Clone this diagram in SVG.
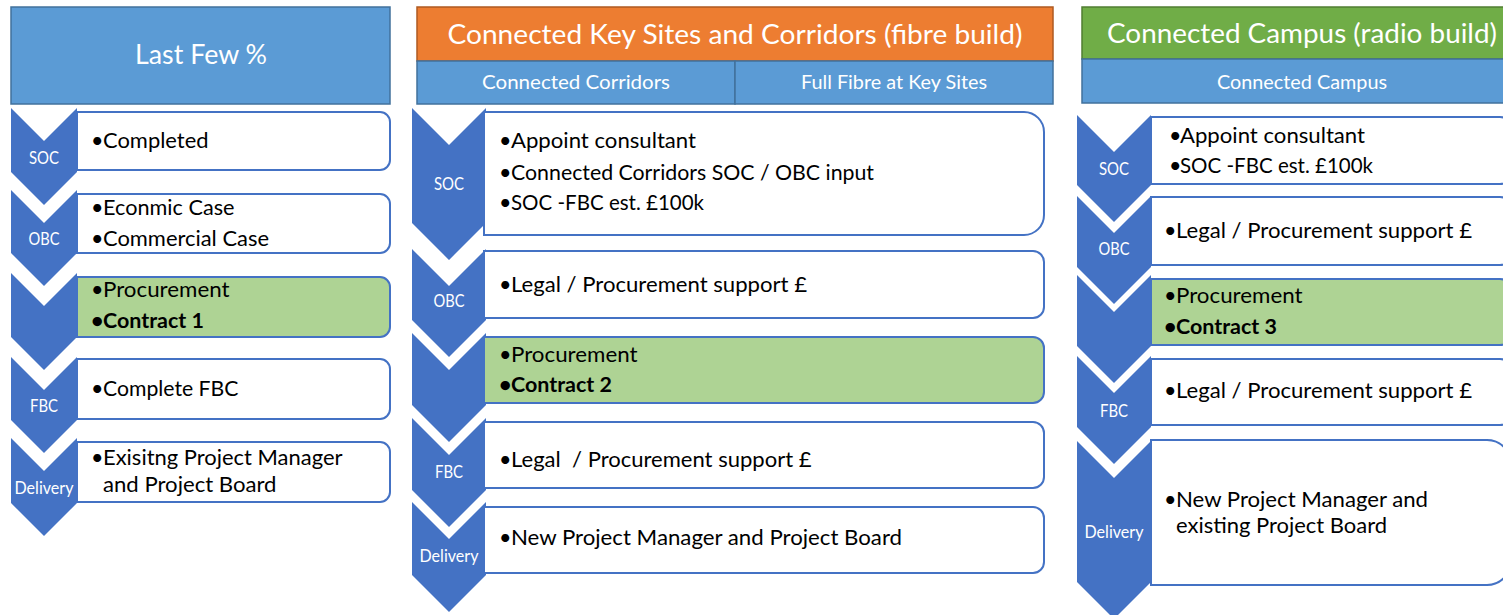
<svg xmlns="http://www.w3.org/2000/svg" width="1503" height="615" viewBox="0 0 1503 615">
  <style>
    .hdr-blue { fill: #5B9BD5; stroke: #41719C; stroke-width: 1.5; }
    .hdr-orange { fill: #ED7D31; stroke: #AE5A21; stroke-width: 1.5; }
    .hdr-green { fill: #70AD47; stroke: #507E32; stroke-width: 1.5; }
    .chev { fill: #4472C4; }
    .box { fill: #FFFFFF; stroke: #4472C4; stroke-width: 2; }
    .box-hl { fill: #AED394; stroke: #4472C4; stroke-width: 2; }
    .title { font-family: Lato, "Open Sans", sans-serif; font-size: 26px; fill: #FFFFFF; text-anchor: middle; }
    .sub { font-family: Lato, "Open Sans", sans-serif; font-size: 19.5px; fill: #FFFFFF; text-anchor: middle; }
    .stage { font-family: Lato, "Open Sans", sans-serif; font-size: 16.5px; fill: #FFFFFF; text-anchor: middle; }
    .body { font-family: Lato, "Open Sans", sans-serif; font-size: 21.5px; fill: #000000; }
    .bold { font-weight: bold; }
  </style>

  <!-- Column 1: Last Few % -->
  <g id="last-few">
    <rect class="hdr-blue" x="11" y="7" width="379" height="97"/>
    <text class="title" x="201" y="64" textLength="132" lengthAdjust="spacingAndGlyphs">Last Few %</text>
  </g>

  <g id="lf-soc">
    <path class="chev" d="M11,108 L44,141 L77,108 L77,172 L44,205 L11,172 Z"/>
    <text class="stage" x="44" y="164" textLength="30" lengthAdjust="spacingAndGlyphs">SOC</text>
    <path class="box" d="M77,112 H380 A10,10 0 0 1 390,122 V160 A10,10 0 0 1 380,170 H77 Z"/>
    <text class="body" x="91" y="148">•</text>
    <text class="body" x="103" y="148" textLength="105.5" lengthAdjust="spacingAndGlyphs">Completed</text>
  </g>

  <g id="lf-obc">
    <path class="chev" d="M11,190 L44,223 L77,190 L77,253 L44,286 L11,253 Z"/>
    <text class="stage" x="44" y="245" textLength="31" lengthAdjust="spacingAndGlyphs">OBC</text>
    <path class="box" d="M77,194 H380 A10,10 0 0 1 390,204 V243 A10,10 0 0 1 380,253 H77 Z"/>
    <text class="body" x="91" y="215">•</text>
    <text class="body" x="103" y="215" textLength="131.5" lengthAdjust="spacingAndGlyphs">Econmic Case</text>
    <text class="body" x="91" y="246">•</text>
    <text class="body" x="103" y="246" textLength="166" lengthAdjust="spacingAndGlyphs">Commercial Case</text>
  </g>

  <g id="lf-proc">
    <path class="chev" d="M11,273 L44,306 L77,273 L77,337 L44,370 L11,337 Z"/>
    <path class="box-hl" d="M77,277 H380 A10,10 0 0 1 390,287 V327 A10,10 0 0 1 380,337 H77 Z"/>
    <text class="body" x="91" y="297">•</text>
    <text class="body" x="103" y="297" textLength="126.5" lengthAdjust="spacingAndGlyphs">Procurement</text>
    <text class="body bold" x="91" y="328">•</text>
    <text class="body bold" x="103" y="328" textLength="101" lengthAdjust="spacingAndGlyphs">Contract 1</text>
  </g>

  <g id="lf-fbc">
    <path class="chev" d="M11,357 L44,390 L77,357 L77,420 L44,453 L11,420 Z"/>
    <text class="stage" x="44" y="412" textLength="28" lengthAdjust="spacingAndGlyphs">FBC</text>
    <path class="box" d="M77,359 H380 A10,10 0 0 1 390,369 V409 A10,10 0 0 1 380,419 H77 Z"/>
    <text class="body" x="91" y="396">•</text>
    <text class="body" x="103" y="396" textLength="135.5" lengthAdjust="spacingAndGlyphs">Complete FBC</text>
  </g>

  <g id="lf-delivery">
    <path class="chev" d="M11,438 L44,471 L77,438 L77,503 L44,536 L11,503 Z"/>
    <text class="stage" x="44" y="494" textLength="59" lengthAdjust="spacingAndGlyphs">Delivery</text>
    <path class="box" d="M77,442 H380 A10,10 0 0 1 390,452 V492 A10,10 0 0 1 380,502 H77 Z"/>
    <text class="body" x="91" y="465">•</text>
    <text class="body" x="103" y="465" textLength="239.5" lengthAdjust="spacingAndGlyphs">Exisitng Project Manager</text>
    <text class="body" x="103" y="492" textLength="173.5" lengthAdjust="spacingAndGlyphs">and Project Board</text>
  </g>

  <!-- Column 2: Connected Key Sites and Corridors -->
  <g id="key-sites">
    <rect class="hdr-orange" x="417" y="7" width="636" height="54"/>
    <text class="title" x="735" y="44" textLength="575" lengthAdjust="spacingAndGlyphs">Connected Key Sites and Corridors (fibre build)</text>
  </g>
  <g id="corridors">
    <rect class="hdr-blue" x="417" y="61" width="318" height="43"/>
    <text class="sub" x="576" y="89" textLength="188" lengthAdjust="spacingAndGlyphs">Connected Corridors</text>
  </g>
  <g id="full-fibre">
    <rect class="hdr-blue" x="735" y="61" width="318" height="43"/>
    <text class="sub" x="894" y="89" textLength="186" lengthAdjust="spacingAndGlyphs">Full Fibre at Key Sites</text>
  </g>

  <g id="ks-soc">
    <path class="chev" d="M412,108 L449,145 L486,108 L486,223 L449,260 L412,223 Z"/>
    <text class="stage" x="449" y="190" textLength="30" lengthAdjust="spacingAndGlyphs">SOC</text>
    <path class="box" d="M484,112 H1024 A20,20 0 0 1 1044,132 V215 A20,20 0 0 1 1024,235 H484 Z"/>
    <text class="body" x="499" y="148">•</text>
    <text class="body" x="511" y="148" textLength="185" lengthAdjust="spacingAndGlyphs">Appoint consultant</text>
    <text class="body" x="499" y="180">•</text>
    <text class="body" x="511" y="180" textLength="363" lengthAdjust="spacingAndGlyphs">Connected Corridors SOC / OBC input</text>
    <text class="body" x="499" y="210">•</text>
    <text class="body" x="511" y="210" textLength="193" lengthAdjust="spacingAndGlyphs">SOC -FBC est. £100k</text>
  </g>

  <g id="ks-obc">
    <path class="chev" d="M412,249 L449,286 L486,249 L486,320 L449,357 L412,320 Z"/>
    <text class="stage" x="449" y="307" textLength="31" lengthAdjust="spacingAndGlyphs">OBC</text>
    <path class="box" d="M484,251 H1033 A11,11 0 0 1 1044,262 V307 A11,11 0 0 1 1033,318 H484 Z"/>
    <text class="body" x="499" y="292">•</text>
    <text class="body" x="511" y="292" textLength="296" lengthAdjust="spacingAndGlyphs">Legal / Procurement support £</text>
  </g>

  <g id="ks-proc">
    <path class="chev" d="M412,333 L449,370 L486,333 L486,405 L449,442 L412,405 Z"/>
    <path class="box-hl" d="M484,337 H1033 A11,11 0 0 1 1044,348 V392 A11,11 0 0 1 1033,403 H484 Z"/>
    <text class="body" x="499" y="362">•</text>
    <text class="body" x="511" y="362" textLength="126.5" lengthAdjust="spacingAndGlyphs">Procurement</text>
    <text class="body bold" x="499" y="392">•</text>
    <text class="body bold" x="511" y="392" textLength="101" lengthAdjust="spacingAndGlyphs">Contract 2</text>
  </g>

  <g id="ks-fbc">
    <path class="chev" d="M412,418 L449,455 L486,418 L486,490 L449,527 L412,490 Z"/>
    <text class="stage" x="449" y="478" textLength="28" lengthAdjust="spacingAndGlyphs">FBC</text>
    <path class="box" d="M484,422 H1033 A11,11 0 0 1 1044,433 V477 A11,11 0 0 1 1033,488 H484 Z"/>
    <text class="body" x="499" y="467">•</text>
    <text class="body" x="511" y="467" textLength="300.5" lengthAdjust="spacingAndGlyphs" xml:space="preserve">Legal  / Procurement support £</text>
  </g>

  <g id="ks-delivery">
    <path class="chev" d="M412,502 L449,539 L486,502 L486,575 L449,612 L412,575 Z"/>
    <text class="stage" x="449" y="562" textLength="59" lengthAdjust="spacingAndGlyphs">Delivery</text>
    <path class="box" d="M484,507 H1033 A11,11 0 0 1 1044,518 V562 A11,11 0 0 1 1033,573 H484 Z"/>
    <text class="body" x="499" y="545">•</text>
    <text class="body" x="511" y="545" textLength="391" lengthAdjust="spacingAndGlyphs">New Project Manager and Project Board</text>
  </g>

  <!-- Column 3: Connected Campus -->
  <g id="campus-radio">
    <rect class="hdr-green" x="1082" y="7" width="440" height="52"/>
    <text class="title" x="1302" y="43" textLength="390" lengthAdjust="spacingAndGlyphs">Connected Campus (radio build)</text>
  </g>
  <g id="campus">
    <rect class="hdr-blue" x="1082" y="59" width="440" height="44"/>
    <text class="sub" x="1302" y="89" textLength="170" lengthAdjust="spacingAndGlyphs">Connected Campus</text>
  </g>

  <g id="cc-soc">
    <path class="chev" d="M1077,115 L1114,152 L1151,115 L1151,185 L1114,222 L1077,185 Z"/>
    <text class="stage" x="1114" y="175" textLength="30" lengthAdjust="spacingAndGlyphs">SOC</text>
    <path class="box" d="M1151,117 H1500 A11,11 0 0 1 1511,128 V173 A11,11 0 0 1 1500,184 H1151 Z"/>
    <text class="body" x="1169" y="143">•</text>
    <text class="body" x="1180" y="143" textLength="185" lengthAdjust="spacingAndGlyphs">Appoint consultant</text>
    <text class="body" x="1169" y="173">•</text>
    <text class="body" x="1180" y="173" textLength="193" lengthAdjust="spacingAndGlyphs">SOC -FBC est. £100k</text>
  </g>

  <g id="cc-obc">
    <path class="chev" d="M1077,196 L1114,233 L1151,196 L1151,267 L1114,304 L1077,267 Z"/>
    <text class="stage" x="1114" y="255" textLength="31" lengthAdjust="spacingAndGlyphs">OBC</text>
    <path class="box" d="M1151,197 H1500 A11,11 0 0 1 1511,208 V254 A11,11 0 0 1 1500,265 H1151 Z"/>
    <text class="body" x="1164" y="238">•</text>
    <text class="body" x="1176" y="238" textLength="296" lengthAdjust="spacingAndGlyphs">Legal / Procurement support £</text>
  </g>

  <g id="cc-proc">
    <path class="chev" d="M1077,275 L1114,312 L1151,275 L1151,346 L1114,383 L1077,346 Z"/>
    <path class="box-hl" d="M1151,279 H1500 A11,11 0 0 1 1511,290 V334 A11,11 0 0 1 1500,345 H1151 Z"/>
    <text class="body" x="1164" y="303">•</text>
    <text class="body" x="1176" y="303" textLength="126.5" lengthAdjust="spacingAndGlyphs">Procurement</text>
    <text class="body bold" x="1164" y="334">•</text>
    <text class="body bold" x="1176" y="334" textLength="101" lengthAdjust="spacingAndGlyphs">Contract 3</text>
  </g>

  <g id="cc-fbc">
    <path class="chev" d="M1077,356 L1114,393 L1151,356 L1151,427 L1114,464 L1077,427 Z"/>
    <text class="stage" x="1114" y="417" textLength="28" lengthAdjust="spacingAndGlyphs">FBC</text>
    <path class="box" d="M1151,359 H1500 A11,11 0 0 1 1511,370 V414 A11,11 0 0 1 1500,425 H1151 Z"/>
    <text class="body" x="1164" y="398">•</text>
    <text class="body" x="1176" y="398" textLength="296" lengthAdjust="spacingAndGlyphs">Legal / Procurement support £</text>
  </g>

  <g id="cc-delivery">
    <path class="chev" d="M1077,441 L1114,478 L1151,441 L1151,582 L1114,619 L1077,582 Z"/>
    <text class="stage" x="1114" y="538" textLength="59" lengthAdjust="spacingAndGlyphs">Delivery</text>
    <path class="box" d="M1151,440 H1487 A24,24 0 0 1 1511,464 V561 A24,24 0 0 1 1487,585 H1151 Z"/>
    <text class="body" x="1164" y="507">•</text>
    <text class="body" x="1176" y="507" textLength="252" lengthAdjust="spacingAndGlyphs">New Project Manager and</text>
    <text class="body" x="1176" y="533" textLength="211" lengthAdjust="spacingAndGlyphs">existing Project Board</text>
  </g>

  <!-- Stage sequence is shown by the chevrons themselves; no separate connectors -->
  <g id="connectors"/>
</svg>
